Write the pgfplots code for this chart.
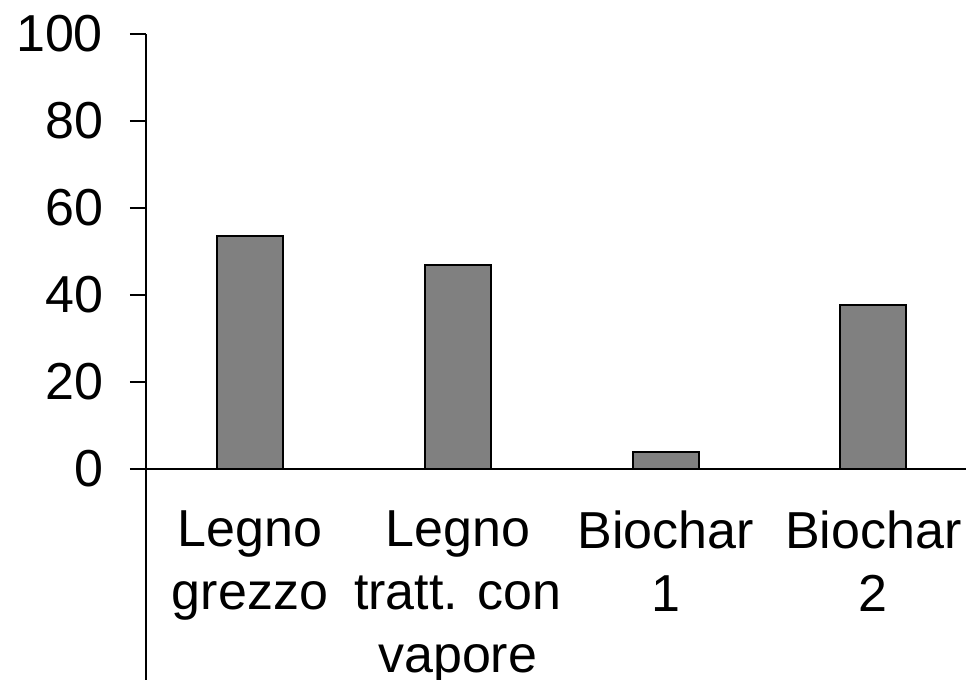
\documentclass[border=0pt]{standalone}
\usepackage{fontspec}
\setmainfont{Liberation Sans}
\usepackage{pgfplots}
\pgfplotsset{compat=1.18}
\begin{document}
\begin{tikzpicture}
\begin{axis}[
 x=103.9pt, y=2.175pt,
 xmin=-0.5, xmax=3.446, ymin=-48.5, ymax=100,
 axis x line=middle, axis y line=left,
 axis line style={-, line width=0.75pt, black},
 ytick={0,20,...,100},
 xtick={0,1,2,3},
 xticklabels={{Legno\\grezzo},{Legno\\tratt. con\\vapore},{Biochar\\1},{Biochar\\2}},
 x tick style={draw=none},
 y tick style={line width=0.75pt, black},
 tick align=outside,
 major tick length=8pt,
 ticklabel style={font=\fontsize{26}{31.5}\selectfont},
 xticklabel style={align=center, anchor=north, yshift=-9.5pt},
 yticklabel style={anchor=east, xshift=-10pt},
 /pgf/number format/assume math mode=true,
 ybar, bar width=33pt,
 clip=false,
]
\addplot[fill=black!50, draw=black, line width=1pt] coordinates {(0,53.6) (1,46.9) (2,4.0) (3,37.7)};
\coordinate (ll) at (axis cs:-0.5,-48.5);
\coordinate (ur) at (axis cs:3.446,100);
\end{axis}
\pgfresetboundingbox
\path[use as bounding box] ([xshift=-73pt]ll) rectangle ([yshift=17pt]ur);
\end{tikzpicture}
\end{document}
